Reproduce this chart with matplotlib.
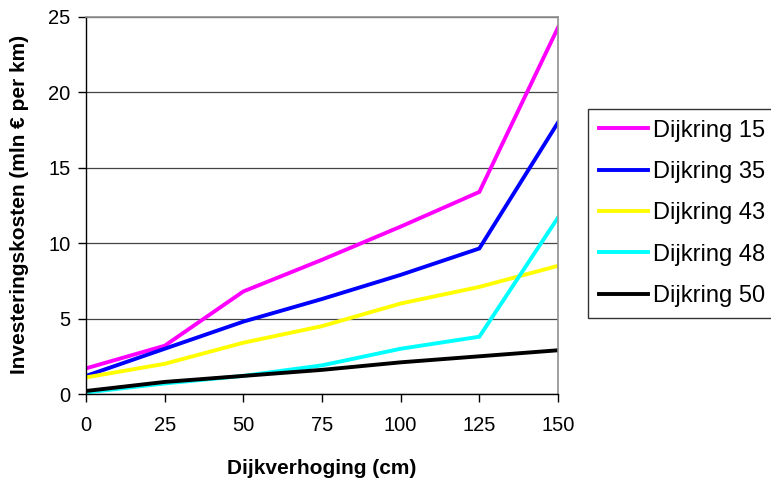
import numpy as np
import matplotlib.pyplot as plt

# Investeringskosten per dijkring bij verschillende dijkverhogingen
verhoging = [0, 25, 50, 75, 100, 125, 150]
dijkring_15 = [1.7, 3.2, 6.8, 8.9, 11.1, 13.4, 24.3]
dijkring_35 = [1.2, 3.0, 4.8, 6.3, 7.9, 9.65, 18.0]
dijkring_43 = [1.1, 2.0, 3.4, 4.5, 6.0, 7.1, 8.5]
dijkring_48 = [0.1, 0.7, 1.2, 1.9, 3.0, 3.8, 11.7]
dijkring_50 = [0.2, 0.8, 1.2, 1.6, 2.1, 2.5, 2.9]

reeksen = [dijkring_15, dijkring_35, dijkring_43, dijkring_48, dijkring_50]
namen = ['Dijkring 15', 'Dijkring 35', 'Dijkring 43', 'Dijkring 48', 'Dijkring 50']
kleuren = ['#FF00FF', '#0000FF', '#FFFF00', '#00FFFF', '#000000']

plt.rcParams['font.family'] = ['Liberation Sans', 'DejaVu Sans']

fig = plt.figure(figsize=(7.71, 4.83), dpi=100)
ax = fig.add_axes([86/771, 1 - 394/483, (558 - 86)/771, (394 - 17)/483])

for y, naam, kleur in zip(reeksen, namen, kleuren):
    ax.plot(verhoging, y, color=kleur, lw=2.8, label=naam, solid_joinstyle='miter')

ax.set_xlim(0, 150)
ax.set_ylim(0, 25)
ax.set_xticks(np.arange(0, 151, 25))
ax.set_yticks(np.arange(0, 26, 5))
ax.yaxis.grid(True, color='#444444', lw=0.9)
ax.set_axisbelow(True)

for kant in ['top', 'right']:
    ax.spines[kant].set_color('#909090')
    ax.spines[kant].set_linewidth(1.2)
for kant in ['left', 'bottom']:
    ax.spines[kant].set_color('black')
    ax.spines[kant].set_linewidth(1.0)

ax.tick_params(axis='both', direction='out', length=6, width=1, labelsize=14.5, pad=5)
ax.tick_params(axis='x', pad=10)

ax.set_xlabel('Dijkverhoging (cm)', fontsize=15, fontweight='bold', va='center', ha='center')
ax.set_ylabel('Investeringskosten (mln € per km)', fontsize=15, fontweight='bold',
              va='center', ha='center')
ax.xaxis.set_label_coords(0.5, (394 - 468) / 377)
ax.yaxis.set_label_coords((20 - 86) / 472, (394 - 204) / 377)

leg = fig.legend(loc='upper left', bbox_to_anchor=(588/771, 1 - 109/483),
                 borderaxespad=0, fontsize=17, frameon=True, fancybox=False,
                 handlelength=2.1, handletextpad=0.2, labelspacing=0.82,
                 borderpad=0.45)
leg.get_frame().set_edgecolor('black')
leg.get_frame().set_linewidth(1.0)

fig.savefig('out.png', dpi=100)
